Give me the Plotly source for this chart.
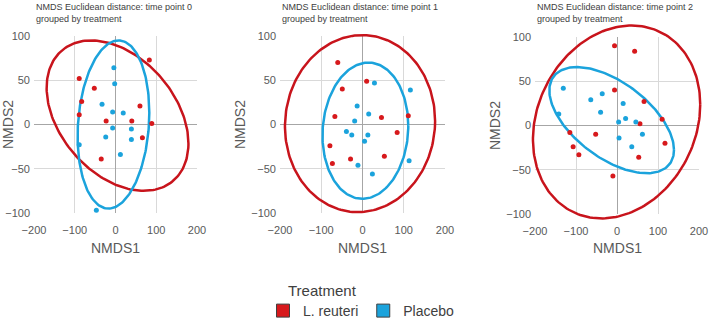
import numpy as np
import plotly.graph_objects as go

W, H = 709, 322

# ---------------- data ----------------
titles = ["NMDS Euclidean distance: time point 0",
          "NMDS Euclidean distance: time point 1",
          "NMDS Euclidean distance: time point 2"]
subtitle = "grouped by treatment"
legend_title = "Treatment"
groups = ["L. reuteri", "Placebo"]

reuteri_x_t0 = [-89, -52, -83, -89, -23, -35, 60, 40, 89, 66, 83]
reuteri_y_t0 = [52, 41, 26, 11, 4, -39, 21, 4, 1, -15, 73]
placebo_x_t0 = [-4, -2, -33, -7, 19, -7, 39, -24, 39, 12, -89, -47]
placebo_y_t0 = [64, 46, 23, 14, 13, -4, -5, -14, -17, -34, -23, -97]

reuteri_x_t1 = [-60, 10, -49, -67, 46, 111, 84, -79, -73, -29, 53]
reuteri_y_t1 = [70, 49, 40, 9, 8, 10, -9, -24, -44, -39, -36]
placebo_x_t1 = [29, 116, -13, 15, -19, -39, -26, 13, 5, -11, 113, 24]
placebo_y_t1 = [47, 39, 21, 12, 4, -8, -12, -12, -19, -46, -41, -56]

reuteri_x_t2 = [-6, 43, -6, 66, 110, 56, 117, 53, -115, -52, -107, -93, -10]
reuteri_y_t2 = [90, 84, 40, 27, 7, 2, -20, -36, -8, -10, -24, -33, -57]
placebo_x_t2 = [-131, -142, -64, -36, -40, 15, 21, 4, 46, 62, 5, 36]
placebo_y_t2 = [42, 13, 29, 36, 15, 25, 8, 4, 4, -10, -14, -24]

# ellipse parameters: centre x, centre y, half-width, half-height, correlation
reuteri_ell = [(5, 10, 174, 85, -0.37), (-6, 1, 182, 100, 0.03), (-1, 4, 204, 109, 0.18)]
placebo_ell = [(-5, 0, 88, 95, 0.14), (7, -7, 104, 77, 0.07), (-13, 6, 152, 60, -0.56)]

x_ticks = [-200, -100, 0, 100, 200]
y_ticks = [-100, -50, 0, 50, 100]

# ---------------- style ----------------
RED_LINE = "#C8141C"
RED_PT = "#D7191C"
BLUE = "#1BA3DC"
FONT = "Liberation Sans"
TICK_C = "#595959"

panels_px = [(34, 197, 36, 213), (280, 445, 36, 213), (535, 699, 37, 214)]
EXT = 0.12  # extra fraction of range for the overlay axes (ellipses may go past the grid)

series = [
    (reuteri_x_t0, reuteri_y_t0, placebo_x_t0, placebo_y_t0),
    (reuteri_x_t1, reuteri_y_t1, placebo_x_t1, placebo_y_t1),
    (reuteri_x_t2, reuteri_y_t2, placebo_x_t2, placebo_y_t2),
]

fig = go.Figure()
layout = dict(
    width=W, height=H, margin=dict(l=0, r=0, t=0, b=0, autoexpand=False),
    paper_bgcolor="white", plot_bgcolor="rgba(0,0,0,0)",
    font=dict(family=FONT, color=TICK_C), showlegend=True,
    template="none",
)
annotations = []

def ellipse(cx, cy, rx, ry, rho):
    t = np.linspace(0, 2 * np.pi, 200)
    x = cx + rx * np.cos(t)
    y = cy + ry * (rho * np.cos(t) + np.sqrt(1 - rho ** 2) * np.sin(t))
    return x, y

for i, (x0, x1, ytop, ybot) in enumerate(panels_px):
    gx = i * 2 + 1      # grid axes
    ox = i * 2 + 2      # overlay axes
    dx = [x0 / W, x1 / W]
    dy = [1 - ybot / H, 1 - ytop / H]
    wx = dx[1] - dx[0]
    wy = dy[1] - dy[0]
    xr = [x_ticks[0], x_ticks[-1]]
    yr = [y_ticks[0], y_ticks[-1]]
    edx = [max(0, dx[0] - EXT * wx), min(1, dx[1] + EXT * wx)]
    edy = [max(0, dy[0] - EXT * wy), min(1, dy[1] + EXT * wy)]
    sx = (xr[1] - xr[0]) / wx
    sy = (yr[1] - yr[0]) / wy
    exr = [xr[0] - (dx[0] - edx[0]) * sx, xr[1] + (edx[1] - dx[1]) * sx]
    eyr = [yr[0] - (dy[0] - edy[0]) * sy, yr[1] + (edy[1] - dy[1]) * sy]

    sfx = "" if gx == 1 else str(gx)
    layout["xaxis" + sfx] = dict(
        domain=dx, range=xr, tickvals=x_ticks, showgrid=True, gridcolor="#D9D9D9",
        gridwidth=1, zeroline=True, zerolinecolor="#A6A6A6", zerolinewidth=1,
        showline=False, ticks="", ticklabelstandoff=9,
        tickfont=dict(size=11, color=TICK_C, family=FONT),
        anchor="y" + sfx, automargin=False, fixedrange=True,
    )
    layout["yaxis" + sfx] = dict(
        domain=dy, range=yr, tickvals=y_ticks, showgrid=True, gridcolor="#D9D9D9",
        gridwidth=1, zeroline=True, zerolinecolor="#A6A6A6", zerolinewidth=1,
        showline=False, ticks="", ticklabelstandoff=3,
        tickfont=dict(size=11, color=TICK_C, family=FONT),
        anchor="x" + sfx, automargin=False, fixedrange=True,
        title=dict(text="NMDS2", font=dict(size=14, color=TICK_C), standoff=2),
    )
    layout["xaxis" + str(ox)] = dict(domain=edx, range=exr, visible=False,
                                     anchor="y" + str(ox), fixedrange=True)
    layout["yaxis" + str(ox)] = dict(domain=edy, range=eyr, visible=False,
                                     anchor="x" + str(ox), fixedrange=True)
    fig.add_trace(go.Scatter(x=[None], y=[None], xaxis="x" + sfx, yaxis="y" + sfx,
                             showlegend=False, hoverinfo="skip"))

    rx_, ry_, px_, py_ = series[i]
    ex, ey = ellipse(*reuteri_ell[i])
    fig.add_trace(go.Scatter(x=ex, y=ey, mode="lines", line=dict(color=RED_LINE, width=2.5),
                             xaxis="x" + str(ox), yaxis="y" + str(ox), showlegend=False,
                             hoverinfo="skip"))
    ex, ey = ellipse(*placebo_ell[i])
    fig.add_trace(go.Scatter(x=ex, y=ey, mode="lines", line=dict(color=BLUE, width=2.5),
                             xaxis="x" + str(ox), yaxis="y" + str(ox), showlegend=False,
                             hoverinfo="skip"))
    fig.add_trace(go.Scatter(x=rx_, y=ry_, mode="markers", marker=dict(color=RED_PT, size=5),
                             xaxis="x" + str(ox), yaxis="y" + str(ox), showlegend=False,
                             name=groups[0]))
    fig.add_trace(go.Scatter(x=px_, y=py_, mode="markers", marker=dict(color=BLUE, size=5),
                             xaxis="x" + str(ox), yaxis="y" + str(ox), showlegend=False,
                             name=groups[1]))

    annotations.append(dict(text=titles[i] + "<br>" + subtitle, x=dx[0], y=1 - 0.5 / H,
                            xref="paper", yref="paper", xanchor="left", yanchor="top",
                            align="left", showarrow=False,
                            font=dict(size=9, color="#404040", family=FONT)))
    annotations.append(dict(text="NMDS1", x=(dx[0] + dx[1]) / 2, y=1 - 248 / H,
                            xref="paper", yref="paper", xanchor="center", yanchor="middle",
                            showarrow=False, font=dict(size=14, color=TICK_C, family=FONT)))

# legend title
annotations.append(dict(text=legend_title, x=286 / W, y=1 - 290 / H, xref="paper", yref="paper",
                        xanchor="left", yanchor="middle", showarrow=False,
                        font=dict(size=15, color="#404040", family=FONT)))

# legend-only traces
for name, col in zip(groups, [RED_PT, BLUE]):
    fig.add_trace(go.Scatter(x=[None], y=[None], mode="markers", name=name,
                             marker=dict(symbol="square", size=13, color=col,
                                         line=dict(color="#404040", width=1)),
                             xaxis="x2", yaxis="y2", showlegend=True))

layout["annotations"] = annotations
layout["legend"] = dict(orientation="h", x=263 / W, y=1 - 311 / H, xanchor="left", yanchor="middle",
                        font=dict(size=14, color="#404040", family=FONT),
                        bgcolor="rgba(0,0,0,0)", itemwidth=30)
fig.update_layout(**layout)
fig.write_html("out.html")
